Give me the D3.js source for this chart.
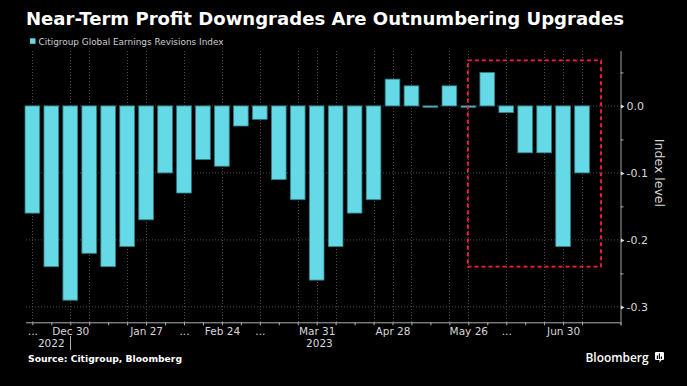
<!DOCTYPE html>
<html><head><meta charset="utf-8">
<script src="https://cdn.jsdelivr.net/npm/d3@7"></script>
<style>html,body{margin:0;padding:0;background:#000;}svg{display:block;}</style>
</head><body>
<script>
// ---- data ----
const dates = ["2022-12-16","2022-12-23","2022-12-30","2023-01-06","2023-01-13","2023-01-20","2023-01-27",
  "2023-02-03","2023-02-10","2023-02-17","2023-02-24","2023-03-03","2023-03-10","2023-03-17","2023-03-24",
  "2023-03-31","2023-04-07","2023-04-14","2023-04-21","2023-04-28","2023-05-05","2023-05-12","2023-05-19",
  "2023-05-26","2023-06-02","2023-06-09","2023-06-16","2023-06-23","2023-06-30","2023-07-07"];
const values = [-0.16,-0.24,-0.29,-0.22,-0.24,-0.21,-0.17,-0.10,-0.13,-0.08,-0.09,-0.03,-0.02,-0.11,-0.14,
  -0.26,-0.21,-0.16,-0.14,0.04,0.03,-0.002,0.03,-0.002,0.05,-0.01,-0.07,-0.07,-0.21,-0.10];
const labelDates = ["2022-12-16","2022-12-30","2023-01-27","2023-02-10","2023-02-24","2023-03-10","2023-03-31",
  "2023-04-28","2023-05-26","2023-06-09","2023-06-30"];
const labelTexts = ["...","Dec 30","Jan 27","...","Feb 24","...","Mar 31","Apr 28","May 26","...","Jun 30"];
const gridDates = ["2022-12-16","2022-12-30","2023-01-06","2023-01-20","2023-01-27","2023-02-10","2023-02-24",
  "2023-03-10","2023-03-24","2023-03-31","2023-04-07","2023-04-21","2023-04-28","2023-05-05","2023-05-19",
  "2023-05-26","2023-06-09","2023-06-23","2023-06-30","2023-07-07"];
const yTicksMajor = [0, -0.1, -0.2, -0.3];
const yTicksMinor = [0.05, -0.05, -0.15, -0.25];
const years = [{label:"2022", date:"2022-12-23"}, {label:"2023", date:"2023-04-01"}];
const yearSplit = "2022-12-30";
const highlight = {from:"2023-05-26", to:"2023-07-14", top:0.068, bottom:-0.24};
const title = "Near-Term Profit Downgrades Are Outnumbering Upgrades";
const legendLabel = "Citigroup Global Earnings Revisions Index";
const yTitle = "Index level";
const source = "Source: Citigroup, Bloomberg";

// ---- layout ----
const W = 687, H = 386;
const plotL = 26, plotR = 620.5, plotT = 51, plotB = 322.3;
const DAY = 864e5;
const parse = d3.utcParse("%Y-%m-%d");
const data = dates.map((d,i)=>({date:parse(d), value:values[i]}));

const x = d3.scaleUtc()
  .domain([new Date(+parse(dates[0]) - 2.35*DAY), new Date(+parse(dates[dates.length-1]) + 14.2*DAY)])
  .range([plotL, plotR]);
const y = d3.scaleLinear().domain([-0.323, 0.082]).range([plotB, plotT]);
const barW = (x(new Date(7*DAY)) - x(new Date(0))) * 0.775;

const svg = d3.select("body").append("svg").attr("width", W).attr("height", H)
  .style("background", "#000");

// title
svg.append("text").attr("x", 26).attr("y", 25)
  .attr("font-family", "DejaVu Sans").attr("font-weight", "bold").attr("font-size", 18)
  .attr("fill", "#fff").attr("textLength", 598).attr("lengthAdjust", "spacingAndGlyphs").text(title);

// legend
svg.append("rect").attr("x", 30).attr("y", 38.3).attr("width", 5.5).attr("height", 5.5).attr("fill", "#66d9e6");
svg.append("text").attr("x", 38.5).attr("y", 45).attr("font-family", "DejaVu Sans").attr("font-size", 9)
  .attr("fill", "#cfcfcf").attr("textLength", 185).attr("lengthAdjust", "spacingAndGlyphs").text(legendLabel);

// grid
const grid = svg.append("g");
grid.selectAll(".hg").data(yTicksMajor).join("line")
  .attr("x1", plotL).attr("x2", plotR).attr("y1", d=>y(d)).attr("y2", d=>y(d))
  .attr("stroke", "#4a4a4a").attr("stroke-width", 1).attr("stroke-dasharray", "1,2");
grid.selectAll(".vg").data(gridDates).join("line")
  .attr("x1", d=>Math.round(x(parse(d)))+0.5).attr("x2", d=>Math.round(x(parse(d)))+0.5)
  .attr("y1", plotT).attr("y2", plotB)
  .attr("stroke", "#4a4a4a").attr("stroke-width", 1).attr("stroke-dasharray", "1,2");

// bars
svg.append("g").selectAll("rect").data(data).join("rect")
  .attr("x", d=>x(d.date) - barW/2).attr("width", barW)
  .attr("y", d=>Math.min(y(d.value), y(0)))
  .attr("height", d=>Math.max(0.8, Math.abs(y(d.value) - y(0))))
  .attr("fill", "#66d9e6").attr("stroke", "#2f7f88").attr("stroke-width", 0.8);

// highlight box
svg.append("rect")
  .attr("x", x(parse(highlight.from)) - 0.5).attr("y", y(highlight.top))
  .attr("width", x(parse(highlight.to)) - x(parse(highlight.from)) + 0.5)
  .attr("height", y(highlight.bottom) - y(highlight.top))
  .attr("fill", "none").attr("stroke", "#ff1c3e").attr("stroke-width", 1.8).attr("stroke-dasharray", "4,3");

// x axis
const labelMap = new Map(labelDates.map((d,i)=>[d, labelTexts[i]]));
const fmtKey = d3.utcFormat("%Y-%m-%d");
const xAxis = d3.axisBottom(x).tickValues(data.map(d=>d.date).concat([x.domain()[1]]))
  .tickSize(3).tickPadding(2).tickFormat(d => labelMap.get(fmtKey(d)) || "");
const gx = svg.append("g").attr("transform", `translate(0,${plotB})`).call(xAxis);
gx.select(".domain").attr("stroke", "#b0b0b0").attr("d", `M${plotL},0.5H${plotR}`);
gx.selectAll(".tick line").attr("stroke", "#b0b0b0");
gx.selectAll(".tick text").attr("fill", "#d8d8d8").attr("font-family", "DejaVu Sans").attr("font-size", 10.5);

// year labels
svg.append("line").attr("x1", Math.round(x(parse(yearSplit)))+0.5).attr("x2", Math.round(x(parse(yearSplit)))+0.5)
  .attr("y1", 336).attr("y2", 350).attr("stroke", "#b0b0b0");
svg.selectAll(".yr").data(years).join("text")
  .attr("x", d=>x(parse(d.date))).attr("y", 346.5).attr("text-anchor", "middle")
  .attr("fill", "#d8d8d8").attr("font-family", "DejaVu Sans").attr("font-size", 10.5).text(d=>d.label);

// y axis
const fmtY = v => d3.format(".1f")(v).replace("\u2212", "-");
const yAxis = d3.axisRight(y).tickValues(yTicksMajor.concat(yTicksMinor)).tickSize(3).tickPadding(3)
  .tickFormat(v => yTicksMajor.includes(v) ? fmtY(v) : "");
const gy = svg.append("g").attr("transform", `translate(${plotR},0)`).call(yAxis);
gy.select(".domain").attr("stroke", "#a0a0a0").attr("d", `M0.5,${plotT}V${plotB+3}`);
gy.selectAll(".tick line").attr("stroke", "#b0b0b0");
gy.selectAll(".tick text").attr("fill", "#d8d8d8").attr("font-family", "DejaVu Sans").attr("font-size", 11);
gy.selectAll(".tick").filter(v => yTicksMajor.includes(v)).append("path")
  .attr("d", "M0.5,-2L4,0L0.5,2Z").attr("fill", "#d8d8d8");

// y title
svg.append("text").attr("transform", `translate(655,${(y(0)+y(-0.2))/2}) rotate(90)`)
  .attr("text-anchor", "middle").attr("fill", "#d8d8d8").attr("font-family", "DejaVu Sans")
  .attr("font-size", 12.5).text(yTitle);

// source
svg.append("text").attr("x", 28).attr("y", 361.5).attr("font-family", "DejaVu Sans").attr("font-weight", "bold")
  .attr("font-size", 9.5).attr("fill", "#fff").attr("textLength", 154).attr("lengthAdjust", "spacingAndGlyphs").text(source);

// Bloomberg logo
svg.append("text").attr("x", 585.5).attr("y", 361.5).attr("font-family", "Open Sans").attr("font-weight", 600)
  .attr("font-size", 13).attr("fill", "#fff").attr("textLength", 63).attr("lengthAdjust", "spacingAndGlyphs").text("Bloomberg");
const logo = svg.append("g").attr("transform", "translate(655,352)");
logo.append("rect").attr("width", 9).attr("height", 8).attr("rx", 1).attr("fill", "#fff");
logo.append("path").attr("d", "M4.5,8L4.5,10.5L6.5,8Z").attr("fill", "#fff");
[[1.8,3.5],[3.8,1.5],[5.8,4.5]].forEach(([bx,by])=>{
  logo.append("rect").attr("x", bx).attr("y", by).attr("width", 1.2).attr("height", 7-by).attr("fill", "#000");
});
</script>
</body></html>
